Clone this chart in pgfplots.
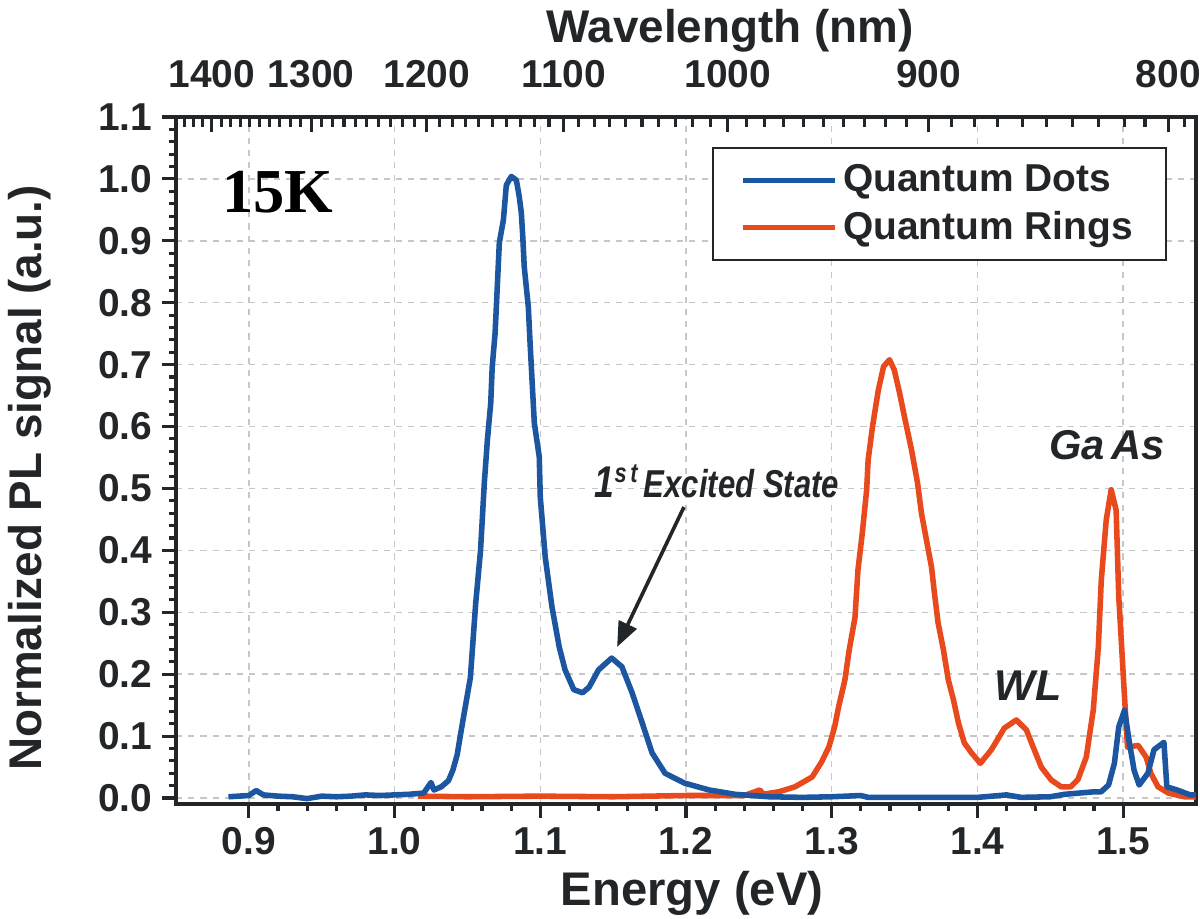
\documentclass[border=0pt]{standalone}
\usepackage{fontspec}
\setmainfont{Liberation Sans}
\newfontfamily\timesfont{Liberation Serif}
\usepackage{graphicx}
\usepackage{pgfplots}
\pgfplotsset{compat=1.18}
\usetikzlibrary{arrows.meta}
\definecolor{qdblue}{RGB}{28,86,160}
\definecolor{qrred}{RGB}{232,74,30}
\definecolor{axisdark}{RGB}{35,38,40}

\pgfplotstableread{
E y
0.886 0.002
0.893 0.003
0.900 0.004
0.905 0.012
0.910 0.005
0.920 0.003
0.930 0.002
0.940 -0.001
0.950 0.003
0.960 0.002
0.970 0.003
0.980 0.005
0.990 0.004
1.000 0.005
1.010 0.006
1.020 0.008
1.025 0.025
1.027 0.013
1.032 0.018
1.037 0.028
1.040 0.045
1.043 0.070
1.045 0.099
1.048 0.140
1.052 0.194
1.0557 0.315
1.059 0.400
1.0616 0.509
1.0637 0.578
1.066 0.638
1.067 0.696
1.069 0.751
1.0705 0.826
1.0719 0.897
1.0747 0.934
1.0767 0.990
1.0801 1.004
1.0836 0.998
1.0856 0.971
1.087 0.945
1.088 0.906
1.089 0.858
1.0918 0.793
1.093 0.735
1.0959 0.606
1.0993 0.551
1.100 0.486
1.1034 0.389
1.108 0.309
1.113 0.244
1.117 0.207
1.123 0.175
1.129 0.170
1.1335 0.179
1.140 0.207
1.149 0.226
1.156 0.212
1.163 0.170
1.170 0.121
1.1767 0.073
1.1856 0.040
1.199 0.024
1.2158 0.013
1.2336 0.006
1.257 0.002
1.28 0.001
1.30 0.002
1.32 0.004
1.325 0.001
1.35 0.001
1.38 0.001
1.40 0.001
1.42 0.005
1.43 0.001
1.45 0.002
1.46 0.006
1.48 0.010
1.4849 0.010
1.490 0.021
1.494 0.056
1.497 0.115
1.501 0.142
1.504 0.094
1.5075 0.045
1.511 0.021
1.517 0.040
1.5212 0.078
1.528 0.090
1.530 0.018
1.537 0.013
1.546 0.005
1.55 0.005
}\dots

\pgfplotstableread{
E y
1.016 0.003
1.05 0.002
1.10 0.003
1.15 0.002
1.20 0.004
1.24 0.004
1.2507 0.013
1.253 0.006
1.2637 0.010
1.2747 0.018
1.2866 0.034
1.293 0.058
1.298 0.082
1.300 0.098
1.302 0.115
1.305 0.150
1.309 0.190
1.312 0.239
1.316 0.292
1.318 0.368
1.321 0.428
1.324 0.498
1.325 0.546
1.328 0.600
1.332 0.659
1.3356 0.697
1.3397 0.708
1.343 0.691
1.3466 0.654
1.350 0.615
1.3548 0.562
1.3589 0.509
1.3616 0.460
1.365 0.417
1.3685 0.373
1.3705 0.331
1.373 0.283
1.3767 0.239
1.380 0.191
1.3836 0.158
1.387 0.121
1.391 0.089
1.3959 0.073
1.402 0.056
1.4096 0.078
1.4185 0.113
1.4267 0.126
1.4336 0.110
1.439 0.078
1.4438 0.050
1.4507 0.029
1.4575 0.018
1.464 0.018
1.469 0.030
1.4747 0.066
1.4795 0.142
1.483 0.244
1.485 0.352
1.4884 0.449
1.4918 0.498
1.4952 0.465
1.497 0.325
1.5003 0.190
1.503 0.082
1.5103 0.085
1.5158 0.066
1.519 0.040
1.524 0.018
1.531 0.008
1.542 0.002
1.55 0.002
}\rings

\begin{document}
\begin{tikzpicture}
\begin{axis}[
  name=main,
  scale only axis, width=367.2pt, height=247.32pt,
  xmin=0.85, xmax=1.55, ymin=-0.0097, ymax=1.1,
  axis line style={axisdark, line width=1.1pt},
  xtick={0.9,1.0,1.1,1.2,1.3,1.4,1.5},
  ytick={0,0.1,0.2,0.3,0.4,0.5,0.6,0.7,0.8,0.9,1.0,1.1},
  minor x tick num=4, minor y tick num=4,
  xtick pos=left, ytick pos=left, xticklabel pos=left, yticklabel pos=left,
  tick align=outside,
  major tick length=5pt, minor tick length=2.6pt,
  every tick/.append style={axisdark, line width=1.1pt},
  grid=major,
  major grid style={dash pattern=on 2.2pt off 2.2pt, black!22, line width=0.5pt},
  /pgf/number format/assume math mode=true,
  xticklabel style={font=\fontsize{14}{14}\selectfont\bfseries, text=axisdark, /pgf/number format/.cd, fixed, fixed zerofill, precision=1},
  yticklabel style={font=\fontsize{14}{14}\selectfont\bfseries, text=axisdark, /pgf/number format/.cd, fixed, fixed zerofill, precision=1},
  clip=false,
  legend style={at={(rel axis cs:0.9716,0.9563)}, anchor=north east, draw=axisdark, line width=0.7pt,
    font=\fontsize{14}{16}\selectfont\bfseries, text=axisdark, inner xsep=10pt, inner ysep=4pt, row sep=1.5pt},
  legend cell align=left,
  legend image code/.code={\draw[#1] (0pt,0pt) -- (33pt,0pt);},
]
\addplot[qrred, line width=2pt, line join=round, forget plot] table[x=E,y=y] {\rings};
\addplot[qdblue, line width=2pt, line join=round, forget plot] table[x=E,y=y] {\dots};
\addlegendimage{qdblue, line width=1.8pt}
\addlegendentry{Quantum Dots}
\addlegendimage{qrred, line width=1.8pt}
\addlegendentry{Quantum Rings}

\node[font={\timesfont\bfseries\fontsize{22.5}{24}\selectfont}, anchor=base] at (axis cs:0.92,0.945) {15K};
\node[font=\fontsize{14}{15}\selectfont\bfseries\itshape, text=axisdark, anchor=base] at (axis cs:1.2213,0.486) {\scalebox{0.8}[1]{{\fontsize{16}{16}\selectfont 1}\textsuperscript{s\,t}\,Excited State}};
\draw[axisdark, line width=1.3pt, -{Triangle[length=9pt,width=7pt]}] (axis cs:1.1986,0.470) -- (axis cs:1.1527,0.244);
\node[font=\fontsize{15.5}{16}\selectfont\bfseries\itshape, text=axisdark, anchor=base] at (axis cs:1.435,0.157) {WL};
\node[font=\fontsize{15}{16}\selectfont\bfseries\itshape, text=axisdark, anchor=base] at (axis cs:1.489,0.546) {Ga\,As};
\end{axis}

\begin{axis}[
  scale only axis, width=367.2pt, height=247.32pt,
  xmin=0.85, xmax=1.55, ymin=0, ymax=1,
  axis line style={draw=none},
  ytick=\empty,
  xtick pos=right, xticklabel pos=right,
  tick align=inside,
  major tick length=5.4pt, minor tick length=3.6pt,
  every tick/.append style={axisdark, line width=1.1pt},
  xtick={0.8746,0.9427,1.0222,1.1161,1.2288,1.3666,1.531},
  xticklabels={1400,1300,1200,1100,1000,900,800},
  minor xtick={0.8560,0.8621,0.8683,0.8810,0.8874,0.8940,0.9006,0.9074,0.9143,0.9212,0.9283,0.9354,0.9501,0.9576,0.9653,0.9730,0.9809,0.9889,0.9970,1.0053,1.0137,1.0309,1.0397,1.0487,1.0578,1.0671,1.0766,1.0862,1.0960,1.1060,1.1265,1.1370,1.1477,1.1587,1.1698,1.1812,1.1927,1.2045,1.2166,1.2414,1.2541,1.2672,1.2805,1.2941,1.3080,1.3222,1.3367,1.3515,1.3821,1.3979,1.4141,1.4307,1.4476,1.4650,1.4828,1.5010,1.5150,1.5420},
  xticklabel style={font=\fontsize{14}{14}\selectfont\bfseries, text=axisdark, yshift=7pt},
]
\addplot[draw=none, forget plot] coordinates {(1.0,0.5)};
\end{axis}

\node[font=\fontsize{17}{18}\selectfont\bfseries, text=axisdark, anchor=base] at (185.8pt,-36.4pt) {Energy (eV)};
\node[font=\fontsize{16.5}{17}\selectfont\bfseries, text=axisdark, rotate=90, anchor=center] at (-52.6pt,117.4pt) {Normalized PL signal (a.u.)};
\node[font=\fontsize{16.5}{17}\selectfont\bfseries, text=axisdark, anchor=base] at (199.4pt,274pt) {Wavelength (nm)};

\pgfresetboundingbox
\path[use as bounding box] (-63.36pt,-41.04pt) rectangle (368.64pt,289.44pt);
\end{tikzpicture}
\end{document}
